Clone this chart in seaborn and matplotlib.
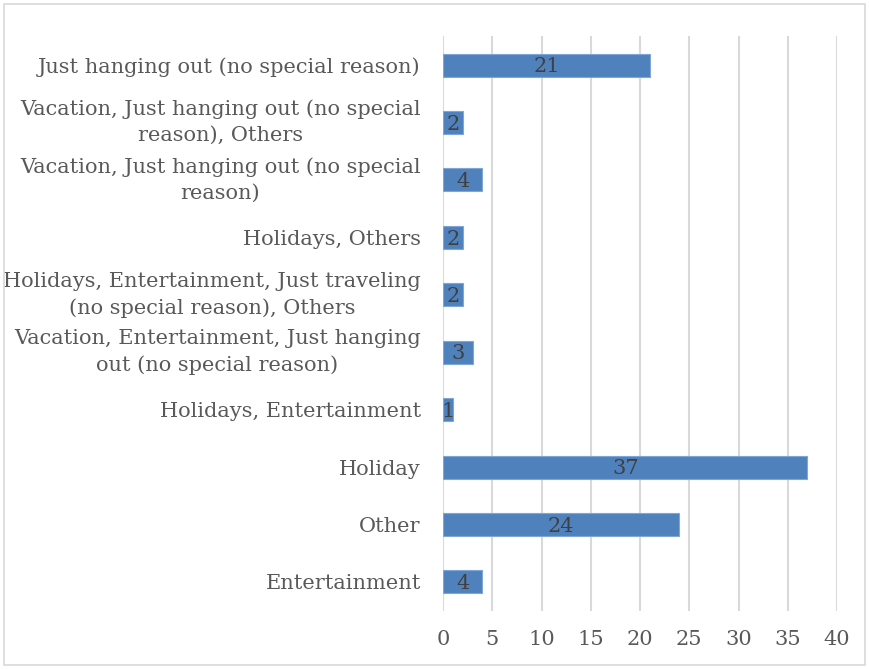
import matplotlib
matplotlib.use("Agg")
import matplotlib.pyplot as plt
import seaborn as sns
import pandas as pd
from matplotlib.patches import Rectangle

categories = [
    "Just hanging out (no special reason)",
    "Vacation, Just hanging out (no special\nreason), Others",
    "Vacation, Just hanging out (no special\nreason)",
    "Holidays, Others",
    "Holidays, Entertainment, Just traveling\n(no special reason), Others",
    "Vacation, Entertainment, Just hanging\nout (no special reason)",
    "Holidays, Entertainment",
    "Holiday",
    "Other",
    "Entertainment",
]
values = [21, 2, 4, 2, 2, 3, 1, 37, 24, 4]
xticks = [0, 5, 10, 15, 20, 25, 30, 35, 40]

sns.set_theme(style="white")
plt.rcParams['font.family'] = ['DejaVu Serif']

df = pd.DataFrame({"cat": categories, "val": values})

fig = plt.figure(figsize=(8.69, 6.69), dpi=100)
ax = fig.add_axes([443/869, 1 - 610.7/669, (837-443)/869, (610.7-36.3)/669])

sns.barplot(data=df, y="cat", x="val", orient="h", color="#4F81BD",
            width=0.4, ax=ax, edgecolor="#7FA6D6", linewidth=0.8, zorder=3,
            saturation=1)

FS = 15
ax.set_xlim(0, 40)
ax.set_ylim(len(categories) - 0.5, -0.5)
ax.set_xticks(xticks)
ax.set_xticklabels([str(t) for t in xticks], fontsize=FS, color="#595959")
ax.set_yticks(range(len(categories)))
ax.set_yticklabels(categories, fontsize=FS, color="#595959", ha="right",
                   multialignment="center", linespacing=1.45)
for lbl in ax.get_yticklabels():
    if "\n" in lbl.get_text():
        lbl.set_va("center")
ax.tick_params(axis="y", pad=16, length=0)
ax.tick_params(axis="x", pad=14, length=0)

ax.set_xlabel("")
ax.set_ylabel("")
ax.grid(axis="x", color="#D9D9D9", linewidth=1.5, zorder=0)
ax.grid(axis="y", visible=False)
for s in ax.spines.values():
    s.set_visible(False)

for i, v in enumerate(values):
    ax.text(v / 2, i + 0.03, str(v), ha="center", va="center", fontsize=FS,
            color="#404040", zorder=4)

fig.patches.append(Rectangle((4/869, 4/669), 861/869, 661/669,
                             transform=fig.transFigure, fill=False,
                             edgecolor="#D9D9D9", linewidth=1.2))

fig.savefig("out.png", dpi=100)
